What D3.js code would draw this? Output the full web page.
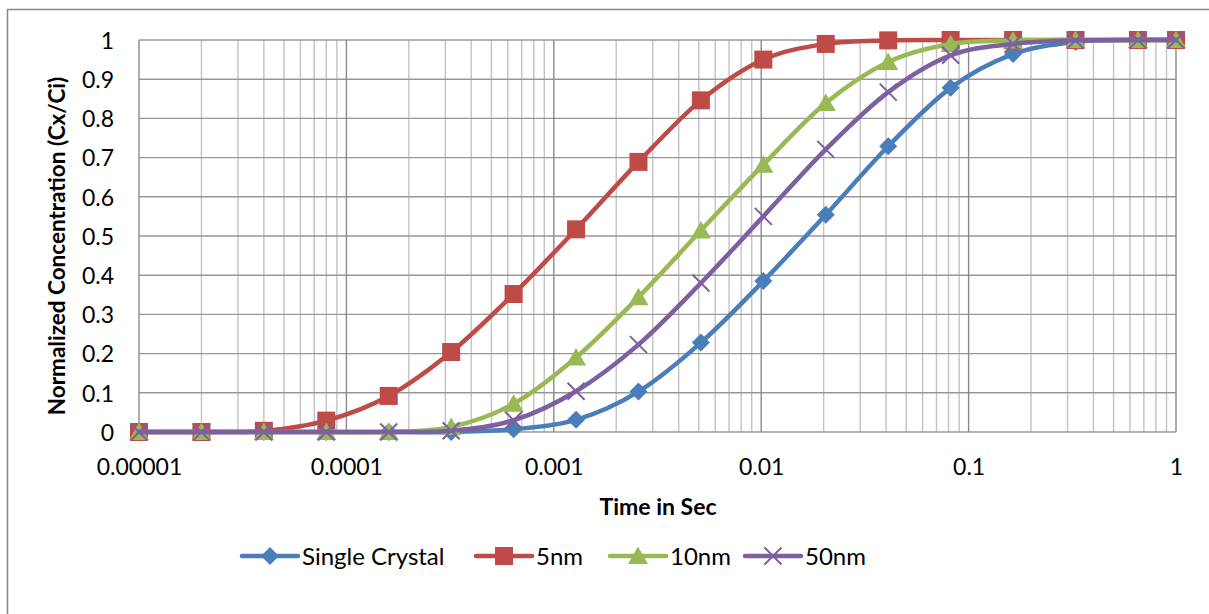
<!DOCTYPE html>
<html><head><meta charset="utf-8">
<script src="https://cdn.jsdelivr.net/npm/d3@7"></script>
<style>
html,body{margin:0;padding:0;background:#fff;}
svg{display:block;font-family:Lato,"Open Sans",sans-serif;}
</style></head>
<body>
<svg id="chart" width="1209" height="614"></svg>
<script>
const times = [0.00001,0.00002,0.00004,0.00008,0.00016,0.00032,0.00064,0.00128,0.00256,0.00512,0.01024,0.02048,0.04096,0.08192,0.16384,0.32768,0.65536,1];
const singleCrystal = [0,0,0,0,0,0,0.007,0.031,0.103,0.228,0.385,0.554,0.729,0.878,0.964,0.995,1,1];
const nm5 = [0,0,0.003,0.029,0.092,0.204,0.352,0.517,0.689,0.846,0.950,0.990,0.999,1,1,1,1,1];
const nm10 = [0,0,0,0,0,0.013,0.072,0.19,0.344,0.514,0.682,0.839,0.944,0.99,0.999,1,1,1];
const nm50 = [0,0,0,0,0,0.003,0.03,0.104,0.223,0.38,0.55,0.721,0.867,0.961,0.99,0.999,1,1];
const seriesNames = ["Single Crystal","5nm","10nm","50nm"];
const seriesColors = ["#4A7EBB","#BE4B48","#98B954","#7D60A0"];
const markerTypes = ["diamond","square","triangle","cross"];
const xTicks = [0.00001,0.0001,0.001,0.01,0.1,1];
const xTickLabels = ["0.00001","0.0001","0.001","0.01","0.1","1"];
const yTicks = [0,0.1,0.2,0.3,0.4,0.5,0.6,0.7,0.8,0.9,1];
const yTickLabels = ["0","0.1","0.2","0.3","0.4","0.5","0.6","0.7","0.8","0.9","1"];

const allSeries = [singleCrystal, nm5, nm10, nm50];
const svg = d3.select("#chart");
const L = 139, R = 1176, T = 40, B = 432;
const x = d3.scaleLog().domain([0.00001,1]).range([L,R]);
const y = d3.scaleLinear().domain([0,1]).range([B,T]);

// outer frame
svg.append("path").attr("d","M7.5,614 L7.5,9.5 L1209,9.5").attr("fill","none").attr("stroke","#888").attr("stroke-width",1.5);

// minor vertical grid
const minor = [];
for (let e=-5;e<0;e++) for (let m=2;m<=9;m++) minor.push(m*Math.pow(10,e));
svg.append("g").selectAll("line").data(minor).join("line")
  .attr("x1",d=>x(d)).attr("x2",d=>x(d)).attr("y1",T).attr("y2",B)
  .attr("stroke","#c3c3c3").attr("stroke-width",1.4);
// horizontal grid
svg.append("g").selectAll("line").data(yTicks).join("line")
  .attr("x1",L).attr("x2",R).attr("y1",d=>y(d)).attr("y2",d=>y(d))
  .attr("stroke","#979797").attr("stroke-width",1.4);
// major vertical grid
svg.append("g").selectAll("line").data(xTicks).join("line")
  .attr("x1",d=>x(d)).attr("x2",d=>x(d)).attr("y1",T).attr("y2",B)
  .attr("stroke","#8a8a8a").attr("stroke-width",1.4);

// axes labels via d3 axes
const xAxis = d3.axisBottom(x).tickValues(xTicks).tickFormat((d,i)=>xTickLabels[i]).tickSize(0).tickPadding(0);
const gx = svg.append("g").attr("transform",`translate(0,${B})`).call(xAxis);
gx.select(".domain").remove();
gx.selectAll("text").attr("dy",null).attr("y",43).attr("font-size",23).attr("fill","#000").attr("font-family","Lato");

const yAxis = d3.axisLeft(y).tickValues(yTicks).tickFormat((d,i)=>yTickLabels[i]).tickSize(0).tickPadding(0);
const gy = svg.append("g").attr("transform",`translate(114,0)`).call(yAxis);
gy.select(".domain").remove();
gy.selectAll("text").attr("dy","0.36em").attr("x",0).attr("font-size",23).attr("fill","#000").attr("font-family","Lato");

// titles
svg.append("text").attr("x",658).attr("y",515).attr("text-anchor","middle")
  .attr("font-size",23).attr("font-weight","bold").text("Time in Sec");
svg.append("text").attr("transform","translate(65,246) rotate(-90)").attr("text-anchor","middle")
  .attr("font-size",22.5).attr("font-weight","bold").text("Normalized Concentration (Cx/Ci)");

function drawMarker(g, type, color, cx, cy){
  if (type==="diamond"){
    g.append("path").attr("d",`M${cx},${cy-9}L${cx+9},${cy}L${cx},${cy+9}L${cx-9},${cy}Z`).attr("fill",color);
  } else if (type==="square"){
    g.append("rect").attr("x",cx-9).attr("y",cy-9).attr("width",18).attr("height",18).attr("fill",color);
  } else if (type==="triangle"){
    g.append("path").attr("d",`M${cx},${cy-9.5}L${cx+10},${cy+8}L${cx-10},${cy+8}Z`).attr("fill",color);
  } else {
    g.append("path").attr("d",`M${cx-8.5},${cy-8.5}L${cx+8.5},${cy+8.5}M${cx-8.5},${cy+8.5}L${cx+8.5},${cy-8.5}`).attr("stroke",color).attr("stroke-width",2).attr("fill","none");
  }
}

const line = d3.line().x(d=>x(d[0])).y(d=>y(d[1])).curve(d3.curveCatmullRom.alpha(0));
allSeries.forEach((vals,i)=>{
  const g = svg.append("g");
  const pts = times.map((t,j)=>[t,vals[j]]);
  g.append("path").datum(pts).attr("d",line).attr("fill","none")
    .attr("stroke",seriesColors[i]).attr("stroke-width",4.5).attr("stroke-linejoin","round").attr("stroke-linecap","round");
  pts.forEach(p=>drawMarker(g, markerTypes[i], seriesColors[i], x(p[0]), y(p[1])));
});

// legend
const legX = [242,476,610,745];
const legY = 556;
seriesNames.forEach((n,i)=>{
  const g = svg.append("g");
  g.append("line").attr("x1",legX[i]).attr("x2",legX[i]+56).attr("y1",legY).attr("y2",legY)
    .attr("stroke",seriesColors[i]).attr("stroke-width",4.5).attr("stroke-linecap","round");
  drawMarker(g, markerTypes[i], seriesColors[i], legX[i]+28, legY);
  g.append("text").attr("x",legX[i]+60).attr("y",legY).attr("dy","0.36em").attr("font-size",24).text(n);
});
</script>
</body></html>
